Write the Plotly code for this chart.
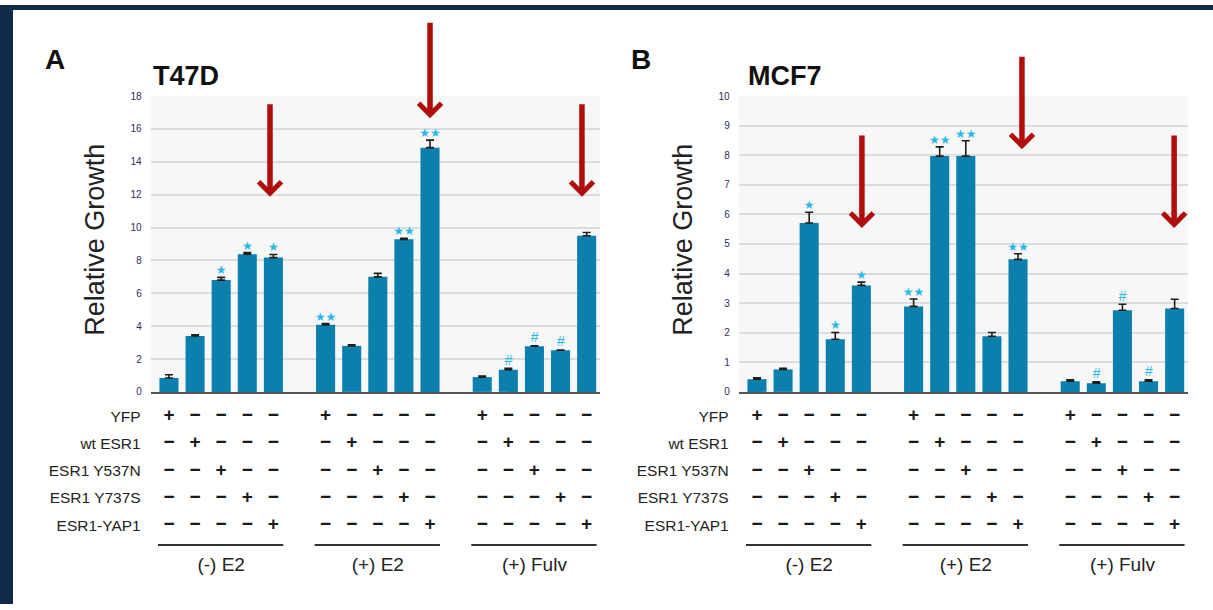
import plotly.graph_objects as go

# ---------------- data ----------------
positions = [0, 1, 2, 3, 4, 6, 7, 8, 9, 10, 12, 13, 14, 15, 16]
group_labels = ["(-) E2", "(+) E2", "(+) Fulv"]
group_centers = [2, 8, 14]
row_labels = ["YFP", "wt ESR1", "ESR1 Y537N", "ESR1 Y737S", "ESR1-YAP1"]

t47d_values = [0.85, 3.40, 6.80, 8.38, 8.17,
               4.08, 2.80, 7.00, 9.28, 14.86,
               0.90, 1.35, 2.78, 2.53, 9.50]
t47d_errors = [0.19, 0.07, 0.17, 0.09, 0.19,
               0.08, 0.06, 0.21, 0.07, 0.46,
               0.06, 0.08, 0.03, 0.02, 0.20]
t47d_sig = ["", "", "*", "*", "*",
            "**", "", "", "**", "**",
            "", "#", "#", "#", ""]

mcf7_values = [0.43, 0.76, 5.71, 1.78, 3.60,
               2.89, 7.97, 7.97, 1.88, 4.48,
               0.36, 0.29, 2.76, 0.36, 2.82]
mcf7_errors = [0.05, 0.04, 0.36, 0.23, 0.11,
               0.25, 0.31, 0.52, 0.13, 0.19,
               0.05, 0.05, 0.20, 0.05, 0.31]
mcf7_sig = ["", "", "*", "*", "*",
            "**", "**", "**", "", "**",
            "", "#", "#", "#", ""]

t47d_ticks = list(range(0, 19, 2))
mcf7_ticks = list(range(0, 11, 1))

# arrows: (x position, y tip value)
t47d_arrows = [(3.87, 11.87), (10.0, 16.65), (15.82, 11.87)]
t47d_arrow_len = [94, 97, 94]
mcf7_arrows = [(4.02, 5.54), (10.15, 8.20), (15.98, 5.54)]
mcf7_arrow_len = [94, 94, 94]

# ---------------- styling ----------------
W, H = 1213, 610
BAR = "#0b80ad"
SIG = "#29b6e8"
TXT = "#222222"
ARROW = "#b00d0d"
FONT = "Liberation Sans, Arial, sans-serif"


def px(x):
    return x / W


def py(y):
    return 1 - y / H


fig = go.Figure()

panels = [
    dict(name="T47D", letter="A", values=t47d_values, errors=t47d_errors, sig=t47d_sig,
         ticks=t47d_ticks, ymax=18, arrows=t47d_arrows, alen=t47d_arrow_len,
         xa="x", ya="y", yt="y3", left=150.7, right=599.7, letter_x=43, title_x=151, ylab_x=95),
    dict(name="MCF7", letter="B", values=mcf7_values, errors=mcf7_errors, sig=mcf7_sig,
         ticks=mcf7_ticks, ymax=10, arrows=mcf7_arrows, alen=mcf7_arrow_len,
         xa="x2", ya="y2", yt="y4", left=738.7, right=1187.7, letter_x=629, title_x=746, ylab_x=683),
]

annotations = []
shapes = []

for p in panels:
    xa, ya, yt = p["xa"], p["ya"], p["yt"]
    # bars
    fig.add_trace(go.Bar(
        x=positions, y=p["values"], width=0.73, xaxis=xa, yaxis=ya,
        marker=dict(color=BAR, line=dict(width=0)),
        error_y=dict(type="data", symmetric=False, array=p["errors"],
                     arrayminus=[0] * len(p["errors"]), color="#1e1e1e",
                     thickness=1.6, width=4),
        showlegend=False, hoverinfo="skip"))
    # significance marks
    tops = [v + e for v, e in zip(p["values"], p["errors"])]
    star_x = [x for x, s in zip(positions, p["sig"]) if "*" in s]
    star_y = [t for t, s in zip(tops, p["sig"]) if "*" in s]
    star_t = ["★" * len(s) for s in p["sig"] if "*" in s]
    fig.add_trace(go.Scatter(
        x=star_x, y=star_y, text=star_t, mode="text", textposition="top center",
        textfont=dict(family="DejaVu Sans", size=12, color=SIG),
        xaxis=xa, yaxis=ya, showlegend=False, hoverinfo="skip", cliponaxis=False))
    hash_x = [x for x, s in zip(positions, p["sig"]) if s == "#"]
    hash_y = [t for t, s in zip(tops, p["sig"]) if s == "#"]
    fig.add_trace(go.Scatter(
        x=hash_x, y=hash_y, text=["<i>#</i>"] * len(hash_x), mode="text",
        textposition="top center",
        textfont=dict(family=FONT, size=14, color=SIG),
        xaxis=xa, yaxis=ya, showlegend=False, hoverinfo="skip", cliponaxis=False))

    # +/- table
    tx, ty, tt = [], [], []
    for r in range(len(row_labels)):
        for i, x in enumerate(positions):
            tx.append(x)
            ty.append(r)
            tt.append("+" if i % 5 == r else "−")
    fig.add_trace(go.Scatter(
        x=tx, y=ty, text=tt, mode="text",
        textfont=dict(family=FONT, size=19, color="#1a1a1a", weight="bold"),
        xaxis=xa, yaxis=yt, showlegend=False, hoverinfo="skip", cliponaxis=False))
    # group underline
    lx, ly = [], []
    for g in range(3):
        lx += [positions[g * 5] - 0.42, positions[g * 5 + 4] + 0.38, None]
        ly += [4.73, 4.73, None]
    fig.add_trace(go.Scatter(
        x=lx, y=ly, mode="lines", line=dict(color="#333333", width=2),
        xaxis=xa, yaxis=yt, showlegend=False, hoverinfo="skip", cliponaxis=False))
    fig.add_trace(go.Scatter(
        x=group_centers, y=[5.5] * 3, text=group_labels, mode="text",
        textfont=dict(family=FONT, size=19, color=TXT),
        xaxis=xa, yaxis=yt, showlegend=False, hoverinfo="skip", cliponaxis=False))

    # plot-area background
    shapes.append(dict(type="rect", xref=f"{xa} domain", yref=f"{ya} domain",
                       x0=0, x1=1, y0=0, y1=1, fillcolor="#f7f7f7",
                       line=dict(width=0), layer="below"))

    # arrows
    for (ax_x, ax_y), ln in zip(p["arrows"], p["alen"]):
        annotations.append(dict(
            x=ax_x, y=ax_y, xref=xa, yref=ya, ax=0, ay=-ln, text="",
            showarrow=True, arrowhead=4, arrowsize=0.8, arrowwidth=5.5,
            arrowcolor=ARROW, standoff=0))

    # titles / labels
    annotations.append(dict(
        x=px(p["letter_x"]), y=py(56), xref="paper", yref="paper", text=f"<b>{p['letter']}</b>",
        showarrow=False, xanchor="left", yanchor="middle",
        font=dict(family=FONT, size=28, color="#111111")))
    annotations.append(dict(
        x=px(p["title_x"]), y=py(72), xref="paper", yref="paper", text=f"<b>{p['name']}</b>",
        showarrow=False, xanchor="left", yanchor="middle",
        font=dict(family=FONT, size=27, color="#111111")))
    annotations.append(dict(
        x=px(p["ylab_x"]), y=py(239), xref="paper", yref="paper", text="Relative Growth",
        showarrow=False, xanchor="center", yanchor="middle", textangle=-90,
        font=dict(family=FONT, size=27, color=TXT)))

# dark frame bands (top and left)
shapes.append(dict(type="rect", xref="paper", yref="paper", x0=0, x1=1, y0=py(5), y1=1,
                   fillcolor="#102a4c", line=dict(width=0), layer="below"))
shapes.append(dict(type="rect", xref="paper", yref="paper", x0=0, x1=px(13), y0=0, y1=1,
                   fillcolor="#102a4c", line=dict(width=0), layer="below"))

bar_dom = [py(394), py(92.7)]
tab_dom = [py(600), py(400)]
tab_range = [6.534, -0.686]

layout_axes = {}
for p in panels:
    xk = "xaxis" if p["xa"] == "x" else "xaxis2"
    yk = "yaxis" if p["ya"] == "y" else "yaxis2"
    tk = "yaxis3" if p["yt"] == "y3" else "yaxis4"
    layout_axes[xk] = dict(domain=[px(p["left"]), px(p["right"])], range=[-0.7, 16.5],
                           anchor=p["ya"], showline=True, linecolor="#555555", linewidth=2,
                           showticklabels=False, ticks="", showgrid=False, zeroline=False,
                           fixedrange=True)
    layout_axes[yk] = dict(domain=bar_dom, range=[0, p["ymax"]], anchor=p["xa"],
                           tickvals=p["ticks"], ticks="", showgrid=True, gridcolor="#dcdcdc",
                           gridwidth=1.5, zeroline=False, showline=False,
                           ticklabelstandoff=8,
                           tickfont=dict(family=FONT, size=10, color="#2e2e58"))
    layout_axes[tk] = dict(domain=tab_dom, range=tab_range, anchor=p["xa"],
                           tickvals=list(range(len(row_labels))), ticktext=row_labels,
                           ticks="", showgrid=False, zeroline=False, showline=False,
                           ticklabelstandoff=9,
                           tickfont=dict(family=FONT, size=15.5, color=TXT))

fig.update_layout(
    width=W, height=H, margin=dict(l=0, r=0, t=0, b=0),
    paper_bgcolor="white", plot_bgcolor="white",
    showlegend=False, annotations=annotations, shapes=shapes,
    font=dict(family=FONT), **layout_axes)

fig.write_html("out.html", config={"displayModeBar": False},
               post_script="document.body.style.margin='0';document.body.style.overflow='hidden';")
